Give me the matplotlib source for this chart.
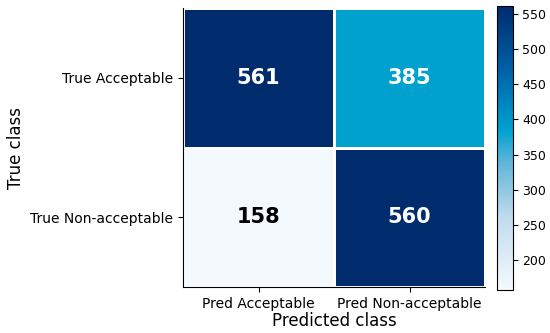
import numpy as np
import matplotlib
matplotlib.use("Agg")
import matplotlib.pyplot as plt
from matplotlib.colors import LinearSegmentedColormap

# confusion matrix values
true_labels = ['True Acceptable', 'True Non-acceptable']
pred_labels = ['Pred Acceptable', 'Pred Non-acceptable']
cm = np.array([[561, 385],
               [158, 560]])

# white -> cyan -> navy, like the original figure
cmap = LinearSegmentedColormap.from_list('cm_blues', [
    (0.0, '#f4f9fd'),
    (0.25, '#c2dced'),
    (0.45, '#5fb5d8'),
    (0.56, '#00a2d0'),
    (0.78, '#005fa6'),
    (1.0, '#002b6c')])

fig = plt.figure(figsize=(5.5, 3.33), dpi=100)
ax = fig.add_axes([0.333, 0.138, 0.549, 0.838])
cax = fig.add_axes([0.904, 0.13, 0.028, 0.852])

mesh = ax.pcolormesh(cm, cmap=cmap, vmin=cm.min(), vmax=cm.max(),
                     edgecolor='white', linewidth=1.0)
ax.set_xlim(0, 2)
ax.set_ylim(2, 0)
ax.set_xticks([0.5, 1.5])
ax.set_yticks([0.5, 1.5])
ax.set_xticklabels(pred_labels, fontsize=10)
ax.set_yticklabels(true_labels, fontsize=10)
ax.set_xlabel('Predicted class', fontsize=12, labelpad=1)
ax.set_ylabel('True class', fontsize=12)
ax.spines['top'].set_visible(False)
ax.spines['right'].set_visible(False)

thresh = (cm.max() + cm.min()) / 2
for i in range(2):
    for j in range(2):
        ax.text(j + 0.5, i + 0.5, str(cm[i, j]), ha='center', va='center',
                fontsize=15, fontweight='bold',
                color='white' if cm[i, j] > thresh else 'black')

cb = fig.colorbar(mesh, cax=cax)
cb.set_ticks([200, 250, 300, 350, 400, 450, 500, 550])
cb.ax.tick_params(labelsize=9)

fig.savefig('out.png', dpi=100)
